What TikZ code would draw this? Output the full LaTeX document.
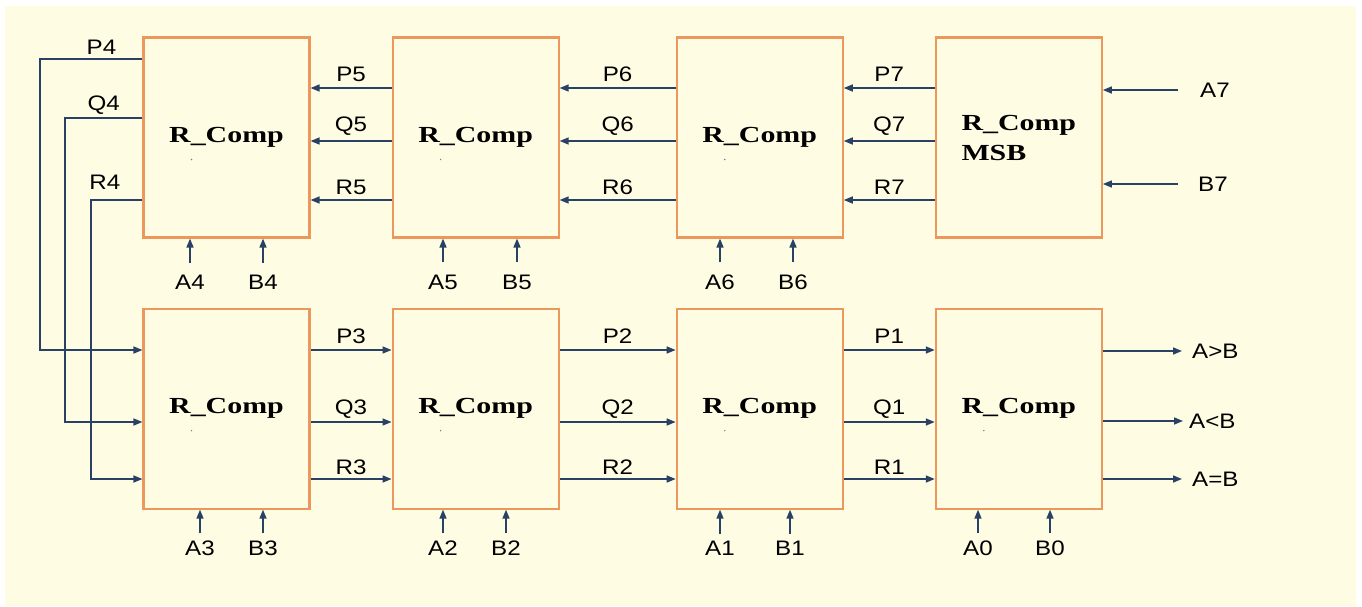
\documentclass[tikz,border=0pt]{standalone}
\usepackage{fontspec}
\setmainfont{Liberation Serif}
\newfontfamily\sigfont[FakeStretch=1.15]{Liberation Sans}
\newfontfamily\compfont[FakeStretch=1.3]{Liberation Serif}
\usetikzlibrary{positioning,arrows.meta}

\definecolor{paper}{RGB}{255,252,228}
\definecolor{boxline}{RGB}{236,152,92}
\definecolor{wire}{RGB}{40,65,100}

\begin{document}
\begin{tikzpicture}[
 x=1pt, y=-1pt,
 comp/.style={rectangle, draw=boxline, line width=2.1pt, fill=paper, minimum width=166pt, minimum height=200pt, inner sep=0pt, font=\compfont\bfseries\fontsize{23}{30}\selectfont},
 sig/.style={font=\sigfont\fontsize{21}{24}\selectfont, inner sep=2pt, text=black},
 arrow/.style={-{Triangle[length=9pt,width=7pt]}, line width=1.5pt, draw=wire},
 ]
 % Page and background
 \useasboundingbox (0,0) rectangle (1362,606);
 \fill[white] (0,0) rectangle (1362,606);
 \fill[paper] (5,6) rectangle (1356,606);

 % Upper row: bits 4 to 7
 \node[comp] (c4) at (226.5,137.5) {R\_Comp};
 \node[comp, right=81pt of c4] (c5) {R\_Comp};
 \node[comp, right=116pt of c5] (c6) {R\_Comp};
 \node[comp, right=91pt of c6, align=left] (c7) {R\_Comp\\MSB};

 % Lower row: bits 3 to 0
 \node[comp, below=69pt of c4] (c3) {R\_Comp};
 \node[comp, below=69pt of c5] (c2) {R\_Comp};
 \node[comp, below=69pt of c6] (c1) {R\_Comp};
 \node[comp, below=69pt of c7] (c0) {R\_Comp};

 % small marks under the labels
 \foreach \c in {c0,c1,c2,c3,c4,c5,c6}
  \fill[gray] ([shift={(-35,22)}]\c.center) circle (0.8pt);

 % Signal levels
 \coordinate (tP) at (0,88);
 \coordinate (tQ) at (0,141);
 \coordinate (tR) at (0,200);
 \coordinate (bP) at (0,350);
 \coordinate (bQ) at (0,422);
 \coordinate (bR) at (0,479);

 % Upper row, right to left
 \foreach \s/\d/\n in {c5/c4/5, c6/c5/6, c7/c6/7} {
  \draw[arrow] (\s.west |- tP) -- node[sig, above=4pt]{P\n} (\d.east |- tP);
  \draw[arrow] (\s.west |- tQ) -- node[sig, above=3pt]{Q\n} (\d.east |- tQ);
  \draw[arrow] (\s.west |- tR) -- node[sig, above=3pt]{R\n} (\d.east |- tR);
 }

 % Lower row, left to right
 \foreach \s/\d/\n in {c3/c2/3, c2/c1/2, c1/c0/1} {
  \draw[arrow] (\s.east |- bP) -- node[sig, above=4pt]{P\n} (\d.west |- bP);
  \draw[arrow] (\s.east |- bQ) -- node[sig, above=1pt]{Q\n} (\d.west |- bQ);
  \draw[arrow] (\s.east |- bR) -- node[sig, above=2pt]{R\n} (\d.west |- bR);
 }

 % Feedback from bit 4 down to bit 3
 \coordinate (fP) at (40,59);
 \coordinate (fQ) at (65,118);
 \coordinate (fR) at (91,200);
 \draw[arrow] (c4.west |- fP) -- node[sig, above=2pt, pos=0.4]{P4} (fP) -- (fP |- bP) -- (c3.west |- bP);
 \draw[arrow] (c4.west |- fQ) -- node[sig, above=1pt]{Q4} (fQ) -- (fQ |- bQ) -- (c3.west |- bQ);
 \draw[arrow] (c4.west |- fR) -- node[sig, above=8pt, pos=0.73]{R4} (fR) -- (fR |- bR) -- (c3.west |- bR);

 % Operand bits, upper row
 \foreach \n/\x/\b in {A4/190/c4, B4/263/c4, A5/443/c5, B5/517/c5, A6/720/c6, B6/793/c6} {
  \node[sig] (\n) at (\x,282) {\n};
  \draw[arrow] ([yshift=10pt]\n.north) -- (\n.north |- \b.south);
 }

 % Operand bits, lower row
 \foreach \n/\x/\b in {A3/200/c3, B3/263/c3, A2/443/c2, B2/506/c2, A1/720/c1, B1/790/c1, A0/978/c0, B0/1050/c0} {
  \node[sig] (\n) at (\x,548) {\n};
  \draw[arrow] ([yshift=5pt]\n.north) -- (\n.north |- \b.south);
 }

 % MSB inputs
 \node[sig] (A7) at (1215,90) {A7};
 \node[sig] (B7) at (1213,184) {B7};
 \draw[arrow] ([xshift=-20pt]A7.west) -- (A7.west -| c7.east);
 \draw[arrow] ([xshift=-18pt]B7.west) -- (B7.west -| c7.east);

 % Results
 \node[sig, anchor=west] (gt) at (1190,351) {A>B};
 \node[sig, anchor=west] (lt) at (1187,421) {A<B};
 \node[sig, anchor=west] (eq) at (1190,479) {A=B};
 \draw[arrow] (c0.east |- gt) -- ([xshift=-8pt]gt.west);
 \draw[arrow] (c0.east |- lt) -- ([xshift=-4pt]lt.west);
 \draw[arrow] (c0.east |- eq) -- ([xshift=-8pt]eq.west);
\end{tikzpicture}
\end{document}
